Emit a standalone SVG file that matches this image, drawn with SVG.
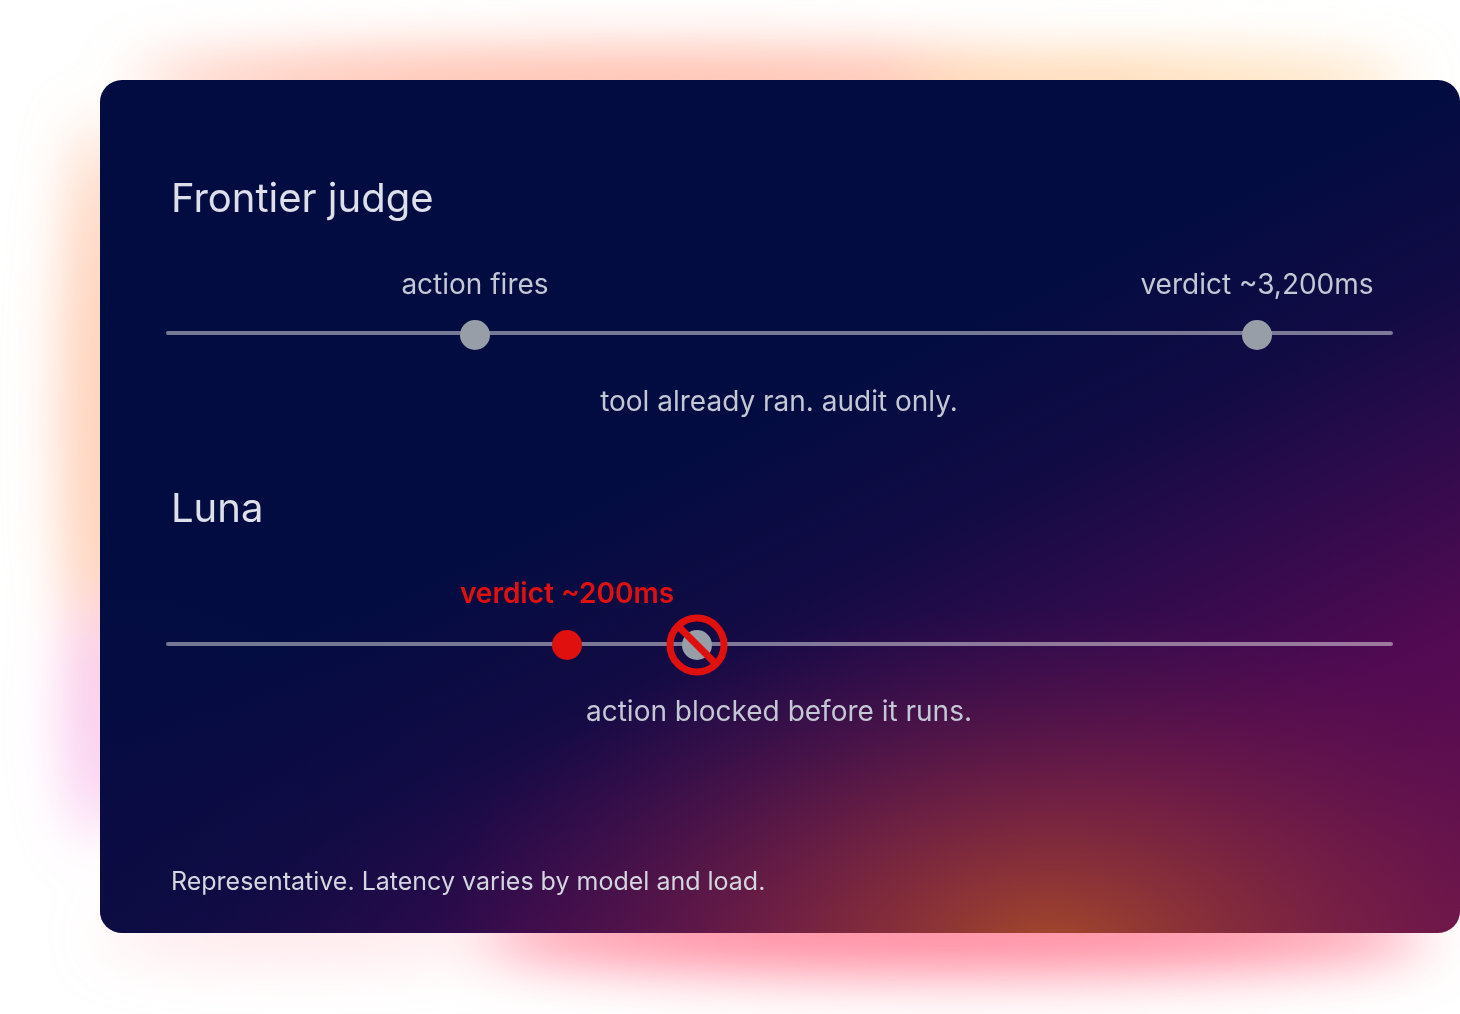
<svg xmlns="http://www.w3.org/2000/svg" width="1460" height="1014" viewBox="0 0 1460 1014">
<style>
.title{font-family:Inter,"Noto Sans",sans-serif;font-size:40px;fill:#dde0ea}
.lbl{font-family:Inter,"Noto Sans",sans-serif;font-size:28px;fill:#c4c7d4}
.foot{font-family:Inter,"Noto Sans",sans-serif;font-size:25px;fill:#d4d6e0}
.red{font-family:Inter,"Noto Sans",sans-serif;font-size:28px;font-weight:600;fill:#e0100f}
.track{stroke:#ffffff;stroke-opacity:0.45;stroke-width:4;stroke-linecap:round}
.dot{fill:#979ea8}
</style>
<defs>
<filter id="blur" x="-20%" y="-20%" width="140%" height="140%"><feGaussianBlur stdDeviation="28"/></filter>
<clipPath id="cardclip"><rect x="100" y="80" width="1360" height="853" rx="22"/></clipPath>
<linearGradient id="bg" gradientUnits="userSpaceOnUse" x1="302" y1="633" x2="648" y2="1357">
<stop offset="0" stop-color="#020c40"/>
<stop offset="0.225" stop-color="#120b44"/>
<stop offset="0.4" stop-color="#2e0b4c"/>
<stop offset="0.62" stop-color="#520a52"/>
<stop offset="1" stop-color="#6c1050"/>
</linearGradient>
<radialGradient id="navy" gradientUnits="userSpaceOnUse" cx="100" cy="933" r="420">
<stop offset="0" stop-color="#0a0c42" stop-opacity="0.75"/>
<stop offset="1" stop-color="#0a0c42" stop-opacity="0"/>
</radialGradient>
<radialGradient id="orange" gradientUnits="userSpaceOnUse" cx="1050" cy="945" r="620" gradientTransform="translate(1050 945) scale(1 0.55) translate(-1050 -945)">
<stop offset="0" stop-color="#a4482a"/>
<stop offset="0.45" stop-color="#8a3038" stop-opacity="0.55"/>
<stop offset="1" stop-color="#5a1448" stop-opacity="0"/>
</radialGradient>
</defs>
<rect width="1460" height="1014" fill="#ffffff"/>
<g id="glow" filter="url(#blur)">
<ellipse cx="650" cy="82" rx="520" ry="30" fill="#ffa890" opacity="0.85"/>
<ellipse cx="1150" cy="84" rx="260" ry="26" fill="#ffcf98" opacity="0.8"/>
<ellipse cx="98" cy="420" rx="32" ry="300" fill="#ffbfa0" opacity="0.85"/>
<ellipse cx="98" cy="720" rx="30" ry="120" fill="#f8b8e8" opacity="0.8"/>
<ellipse cx="950" cy="935" rx="480" ry="38" fill="#ff7890" opacity="0.9"/>
<ellipse cx="300" cy="935" rx="200" ry="25" fill="#ffc8d0" opacity="0.5"/>
</g>
<g id="card">
<rect x="100" y="80" width="1360" height="853" rx="22" fill="url(#bg)"/>
<g clip-path="url(#cardclip)">
<rect x="100" y="80" width="1360" height="853" fill="url(#navy)"/>
<rect x="100" y="80" width="1360" height="853" fill="url(#orange)"/>
</g>
</g>
<g id="connectors">
<line class="track" x1="168" y1="333" x2="1391" y2="333"/>
<line class="track" x1="168" y1="644" x2="1391" y2="644"/>
</g>
<g id="frontier">
<text class="title" x="171" y="212">Frontier judge</text>
<text class="lbl" x="475" y="294" text-anchor="middle">action fires</text>
<text class="lbl" x="1257" y="294" text-anchor="middle">verdict ~3,200ms</text>
<text class="lbl" x="779" y="411" text-anchor="middle">tool already ran. audit only.</text>
</g>
<g id="frontier-action"><circle class="dot" cx="475" cy="335" r="15"/></g>
<g id="frontier-verdict"><circle class="dot" cx="1257" cy="335" r="15"/></g>
<g id="luna">
<text class="title" x="171" y="522">Luna</text>
<text class="red" x="567" y="603" text-anchor="middle">verdict ~200ms</text>
<text class="lbl" x="779" y="721" text-anchor="middle">action blocked before it runs.</text>
</g>
<g id="luna-verdict"><circle cx="567" cy="645" r="15" fill="#e0100f"/></g>
<g id="luna-blocked">
<circle class="dot" cx="697" cy="645" r="15"/>
<circle cx="697" cy="645" r="27" fill="none" stroke="#e0100f" stroke-width="7"/>
<line x1="678" y1="626" x2="716" y2="664" stroke="#e0100f" stroke-width="7"/>
</g>
<g id="note"><text class="foot" x="171" y="890">Representative. Latency varies by model and load.</text></g>
</svg>
